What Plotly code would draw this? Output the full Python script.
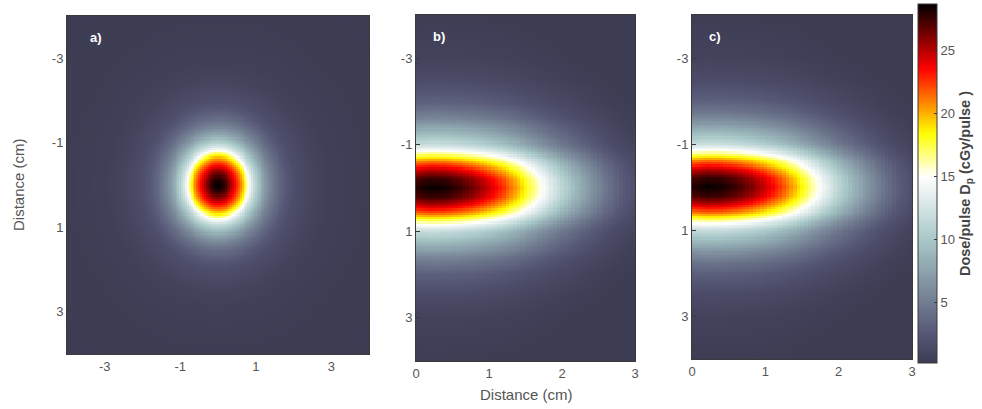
import numpy as np
import plotly.graph_objects as go

# ---------------- data ----------------
# panel a: radial dose profile of the round field (cGy/pulse)
radial_r_cm = [0.0, 0.1, 0.2, 0.3, 0.4, 0.5, 0.6, 0.7, 0.8, 0.9, 1.0, 1.2, 1.4, 1.6, 1.8, 2.0, 2.5, 3.0, 4.0, 6.0]
dose_a_radial = [28.7, 28.3, 27.4, 26.1, 24.5, 22.8, 20.9, 18.6, 15.4, 12.8, 10.8, 7.6, 5.3, 3.7, 2.6, 1.8, 0.9, 0.5, 0.3, 0.2]

# panels b and c: dose along the beam axis (y = 0)
depth_x_cm = [0.0, 0.2, 0.4, 0.6, 0.8, 1.0, 1.2, 1.4, 1.6, 1.8, 2.0, 2.2, 2.4, 2.6, 2.8, 3.0]
depth_dose_b = [28.0, 28.6, 28.4, 27.6, 26.4, 24.7, 22.6, 20.0, 17.0, 14.0, 11.2, 8.8, 6.6, 4.6, 3.0, 1.9]
depth_dose_c = [28.0, 28.6, 28.4, 27.6, 26.4, 24.7, 22.6, 20.0, 17.0, 14.0, 11.2, 8.8, 6.6, 4.6, 3.0, 1.9]

# panels b and c: relative lateral profile
lateral_y_cm = [0.0, 0.2, 0.4, 0.6, 0.7, 0.8, 0.9, 1.0, 1.2, 1.4, 1.6, 1.8, 2.0, 2.5, 3.0, 4.0]
lateral_rel = [1.0, 0.97, 0.88, 0.75, 0.66, 0.57, 0.49, 0.42, 0.34, 0.27, 0.20, 0.15, 0.11, 0.055, 0.028, 0.01]

x_ticks_a = [-3, -1, 1, 3]
y_ticks = [-3, -1, 1, 3]
x_ticks_bc = [0, 1, 2, 3]
cbar_ticks = [5, 10, 15, 20, 25]
panel_labels = ["a)", "b)", "c)"]
dose_min, dose_max, dose_split = 0.2, 28.7, 15.0

# ---------------- grids ----------------
step = 0.05
xa = np.round(np.arange(-4, 4 + 1e-9, step), 3)
ya = np.round(np.arange(-4, 4 + 1e-9, step), 3)
XA, YA = np.meshgrid(xa, ya)
Za = np.interp(np.hypot(XA, YA), radial_r_cm, dose_a_radial)

xb = np.round(np.arange(0, 3 + 1e-9, step), 3)
yb = np.round(np.arange(-4, 4 + 1e-9, step), 3)
lat = np.interp(np.abs(yb), lateral_y_cm, lateral_rel)
Zb = lat[:, None] * np.interp(xb, depth_x_cm, depth_dose_b)[None, :]
Zc = lat[:, None] * np.interp(xb, depth_x_cm, depth_dose_c)[None, :]

# ---------------- colour scale: bone (low) + reversed hot (high) ----------------
def hot(t):
    r = min(max(t / 0.375, 0), 1)
    g = min(max((t - 0.375) / 0.375, 0), 1)
    b = min(max((t - 0.75) / 0.25, 0), 1)
    return r, g, b

def bone(t):
    r, g, b = hot(t)
    return ((7 * t + b) / 8, (7 * t + g) / 8, (7 * t + r) / 8)

def rgb(c):
    return "rgb(%d,%d,%d)" % tuple(int(round(255 * v)) for v in c)

stops = []
N = 60
for i in range(N + 1):
    v = dose_min + (dose_max - dose_min) * i / N
    if v <= dose_split:
        t = 0.27 + (v - dose_min) / (dose_split - dose_min) * 0.73
        c = bone(t)
    else:
        t = 1 - (v - dose_split) / (dose_max - dose_split)
        c = hot(t)
    stops.append([i / N, rgb(c)])

FONT = "Liberation Sans, Arial, sans-serif"
fig = go.Figure()
fig.add_trace(go.Heatmap(x=xa, y=ya, z=Za, coloraxis="coloraxis", xaxis="x", yaxis="y", hoverinfo="skip"))
fig.add_trace(go.Heatmap(x=xb, y=yb, z=Zb, coloraxis="coloraxis", xaxis="x2", yaxis="y2", hoverinfo="skip"))
fig.add_trace(go.Heatmap(x=xb, y=yb, z=Zc, coloraxis="coloraxis", xaxis="x3", yaxis="y3", hoverinfo="skip"))

W, H = 982, 409
def dx(a, b):
    return [a / W, b / W]
def dy(top, bottom):
    return [(H - bottom) / H, (H - top) / H]

def labels(vals):
    return [str(v) for v in vals]  # plain hyphen minus, as in the reference

axis_common = dict(showline=True, mirror=True, linecolor="#3a3a3a", linewidth=1,
                   ticks="inside", ticklen=4, tickcolor="#3a3a3a", showgrid=False,
                   zeroline=False, automargin=False,
                   tickfont=dict(family=FONT, size=13, color="#555555"))

fig.update_layout(
    width=W, height=H, margin=dict(l=0, r=0, t=0, b=0, autoexpand=False),
    paper_bgcolor="white", plot_bgcolor="white",
    xaxis=dict(domain=dx(67, 369), range=[-4, 4], tickvals=x_ticks_a, ticktext=labels(x_ticks_a), anchor="y", **axis_common),
    yaxis=dict(domain=dy(16, 354), range=[4, -4], tickvals=y_ticks, ticktext=labels(y_ticks), anchor="x", **axis_common),
    xaxis2=dict(domain=dx(416, 635), range=[0, 3], tickvals=x_ticks_bc, ticktext=labels(x_ticks_bc), anchor="y2", **axis_common),
    yaxis2=dict(domain=dy(15, 361), range=[4, -4], tickvals=y_ticks, ticktext=labels(y_ticks), anchor="x2", **axis_common),
    xaxis3=dict(domain=dx(692, 912), range=[0, 3], tickvals=x_ticks_bc, ticktext=labels(x_ticks_bc), anchor="y3", **axis_common),
    yaxis3=dict(domain=dy(15, 359), range=[4, -4], tickvals=y_ticks, ticktext=labels(y_ticks), anchor="x3", **axis_common),
    coloraxis=dict(
        colorscale=stops, cmin=dose_min, cmax=dose_max,
        colorbar=dict(
            x=918 / W, xanchor="left", xpad=0, ypad=0,
            y=(H - 183.5) / H, yanchor="middle", len=359 / H, lenmode="fraction",
            thickness=19, thicknessmode="pixels",
            outlinewidth=1, outlinecolor="#3a3a3a",
            tickvals=cbar_ticks, ticktext=labels(cbar_ticks),
            ticks="inside", ticklen=3, tickcolor="#3a3a3a",
            tickfont=dict(family=FONT, size=13, color="#555555"),
            title=dict(text="<b>Dose/pulse D<sub>p</sub> (cGy/pulse )</b>", side="right",
                       font=dict(family=FONT, size=14.5, color="#444444")),
        ),
    ),
)

# panel labels
for i, lab in enumerate(panel_labels):
    ax = "" if i == 0 else str(i + 1)
    fig.add_annotation(text="<b>%s</b>" % lab, xref="x%s domain" % ax, yref="y%s domain" % ax,
                       x=0.07, y=0.937, xanchor="left", yanchor="middle", showarrow=False,
                       font=dict(family=FONT, size=13, color="white"))

# axis titles
fig.add_annotation(text="Distance (cm)", xref="paper", yref="paper", x=18 / W, y=(H - 185) / H,
                   textangle=-90, showarrow=False, xanchor="center", yanchor="middle",
                   font=dict(family=FONT, size=15, color="#555555"))
fig.add_annotation(text="Distance (cm)", xref="paper", yref="paper", x=526 / W, y=(H - 394) / H,
                   showarrow=False, xanchor="center", yanchor="middle",
                   font=dict(family=FONT, size=15, color="#555555"))

fig.write_html("out.html", config={"displayModeBar": False},
               post_script="document.body.style.margin='0';document.body.style.overflow='hidden';")
